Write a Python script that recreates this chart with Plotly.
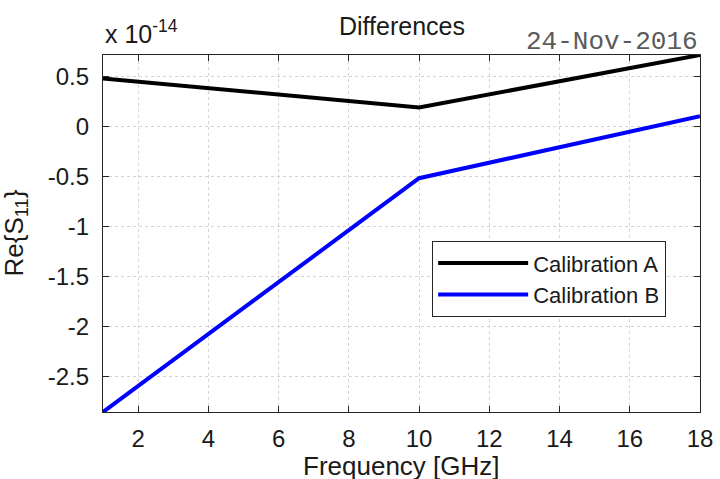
import plotly.graph_objects as go

# Data (values in units of 1e-14)
freq = [1, 10, 18]
cal_a = [0.485, 0.194, 0.72]
cal_b = [-2.855, -0.514, 0.107]
x_ticks = [2, 4, 6, 8, 10, 12, 14, 16, 18]
y_ticks = [-2.5, -2, -1.5, -1, -0.5, 0, 0.5]
y_tick_text = ["-2.5", "-2", "-1.5", "-1", "-0.5", "0", "0.5"]

font_family = "Liberation Sans, Arial, sans-serif"

fig = go.Figure()
fig.add_trace(go.Scatter(x=freq, y=cal_a, mode="lines", name="Calibration A",
                         line=dict(color="black", width=4)))
fig.add_trace(go.Scatter(x=freq, y=cal_b, mode="lines", name="Calibration B",
                         line=dict(color="#0000ff", width=4)))

axis_common = dict(
    showline=True, linecolor="#262626", linewidth=1.2, mirror="ticks",
    ticks="inside", ticklen=6, tickcolor="#262626",
    showgrid=True, gridcolor="#d4d4d4", griddash="dot", gridwidth=1,
    zeroline=False, automargin=False,
    tickfont=dict(family=font_family, size=24, color="#1a1a1a"),
)

fig.update_layout(
    width=720, height=479,
    margin=dict(l=103, r=20, t=55, b=67),
    paper_bgcolor="white", plot_bgcolor="white",
    font=dict(family=font_family, color="#1a1a1a"),
    xaxis=dict(range=[1, 18], tickvals=x_ticks, ticklabelstandoff=5, **axis_common),
    yaxis=dict(range=[-2.855, 0.72], tickvals=y_ticks, ticktext=y_tick_text,
               ticklabelstandoff=8, **axis_common),
    showlegend=True,
    legend=dict(x=0.551, y=0.479, xanchor="left", yanchor="top",
                bgcolor="white", bordercolor="#262626", borderwidth=1.2,
                font=dict(family=font_family, size=22, color="#1a1a1a"),
                itemwidth=90, tracegroupgap=0),
    annotations=[
        dict(text="Frequency [GHz]", xref="paper", yref="paper", x=0.5, y=0,
             xanchor="center", yanchor="top", yshift=-37, showarrow=False,
             font=dict(family=font_family, size=26, color="#1a1a1a")),
        dict(text="Re{S<sub>11</sub>}", xref="paper", yref="paper", x=0, y=0.5,
             xanchor="center", yanchor="middle", xshift=-88, textangle=-90,
             showarrow=False, font=dict(family=font_family, size=26, color="#1a1a1a")),
        dict(text="Differences", xref="paper", yref="paper", x=0.5, y=1.0,
             xanchor="center", yanchor="bottom", yshift=13, showarrow=False,
             font=dict(family=font_family, size=25, color="#1a1a1a")),
        dict(text="x 10<sup>-14</sup>", xref="paper", yref="paper", x=0, y=1.0,
             xanchor="left", yanchor="bottom", yshift=5, showarrow=False,
             font=dict(family=font_family, size=25, color="#1a1a1a")),
        dict(text="24-Nov-2016", xref="paper", yref="paper", x=1.0, y=1.0,
             xanchor="right", yanchor="bottom", yshift=-4, showarrow=False,
             font=dict(family="Liberation Mono, Courier New, monospace", size=26, color="#5a5a5a")),
    ],
)

fig.write_html("out.html", config={"displayModeBar": False},
               post_script="document.body.style.margin='0';")
